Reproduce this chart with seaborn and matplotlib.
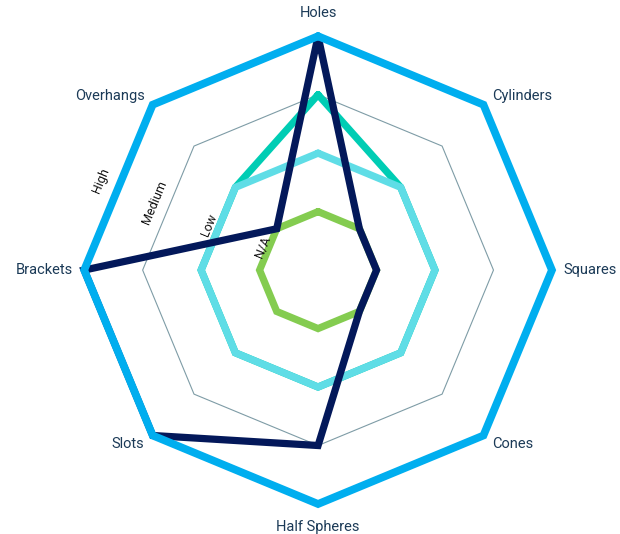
import numpy as np
import matplotlib
matplotlib.use("Agg")
import matplotlib.pyplot as plt
import seaborn as sns

categories = ["Holes", "Cylinders", "Squares", "Cones",
              "Half Spheres", "Slots", "Brackets", "Overhangs"]
level_labels = ["N/A", "Low", "Medium", "High"]
level_values = [1, 2, 3, 4]

# series values per category (1 = N/A ... 4 = High)
outer_vals = [4, 4, 4, 4, 4, 4, 4, 4]
teal_vals = [3, 2, 2, 2, 2, 2, 2, 2]
cyan_vals = [2, 2, 2, 2, 2, 2, 2, 2]
green_vals = [1, 1, 1, 1, 1, 1, 1, 1]
navy_vals = [4, 1, 1, 1, 3, 4, 4, 1]

# drawing order: bottom first
series = [
    (teal_vals, "#00cdb4", 5.2),
    (cyan_vals, "#5fdde6", 5.2),
    (green_vals, "#84cc50", 5.2),
    (navy_vals, "#03185a", 5.2),
    (outer_vals, "#00aeef", 5.6),
]

sns.set_theme(style="white")
plt.rcParams["font.family"] = ["Roboto", "DejaVu Sans"]

n = len(categories)
angles = np.arange(n) * 2 * np.pi / n

fig = plt.figure(figsize=(6.2, 5.34), dpi=100)
ax = fig.add_axes([0.1355, 0.0562, 0.755, 0.876], projection="polar")
ax.set_theta_offset(np.pi / 2)
ax.set_theta_direction(-1)
ax.set_ylim(0, 4)
ax.grid(False)
ax.set_xticks([])
ax.set_yticks([])
ax.spines["polar"].set_visible(False)
ax.set_facecolor("none")

closed = np.append(angles, angles[0])

# octagon grid
for lv in level_values:
    ax.plot(closed, [lv] * (n + 1), color="#7e9ca6", lw=0.8, clip_on=False, zorder=1)

for vals, color, lw in series:
    v = list(vals) + [vals[0]]
    ax.plot(closed, v, color=color, lw=lw, clip_on=False,
            solid_joinstyle="miter", zorder=2)

# level labels between Brackets and Overhangs
lab_theta = (angles[6] + angles[7]) / 2
for lv, txt in zip(level_values, level_labels):
    ax.text(lab_theta, lv + 0.02, txt, rotation=67.5, ha="center", va="center",
            fontsize=9, color="#111111", rotation_mode="anchor", zorder=3)

# category labels
for ang, cat in zip(angles, categories):
    deg = np.degrees(ang) % 360
    r = 4.2
    if deg < 1 or deg > 359:
        ha, va, r = "center", "bottom", 4.28
    elif abs(deg - 180) < 1:
        ha, va, r = "center", "top", 4.28
    elif deg < 180:
        ha, va = "left", "center"
    else:
        ha, va = "right", "center"
    ax.text(ang, r, cat, ha=ha, va=va, fontsize=10.5, color="#1b3a57")

fig.savefig("out.png", dpi=100)
